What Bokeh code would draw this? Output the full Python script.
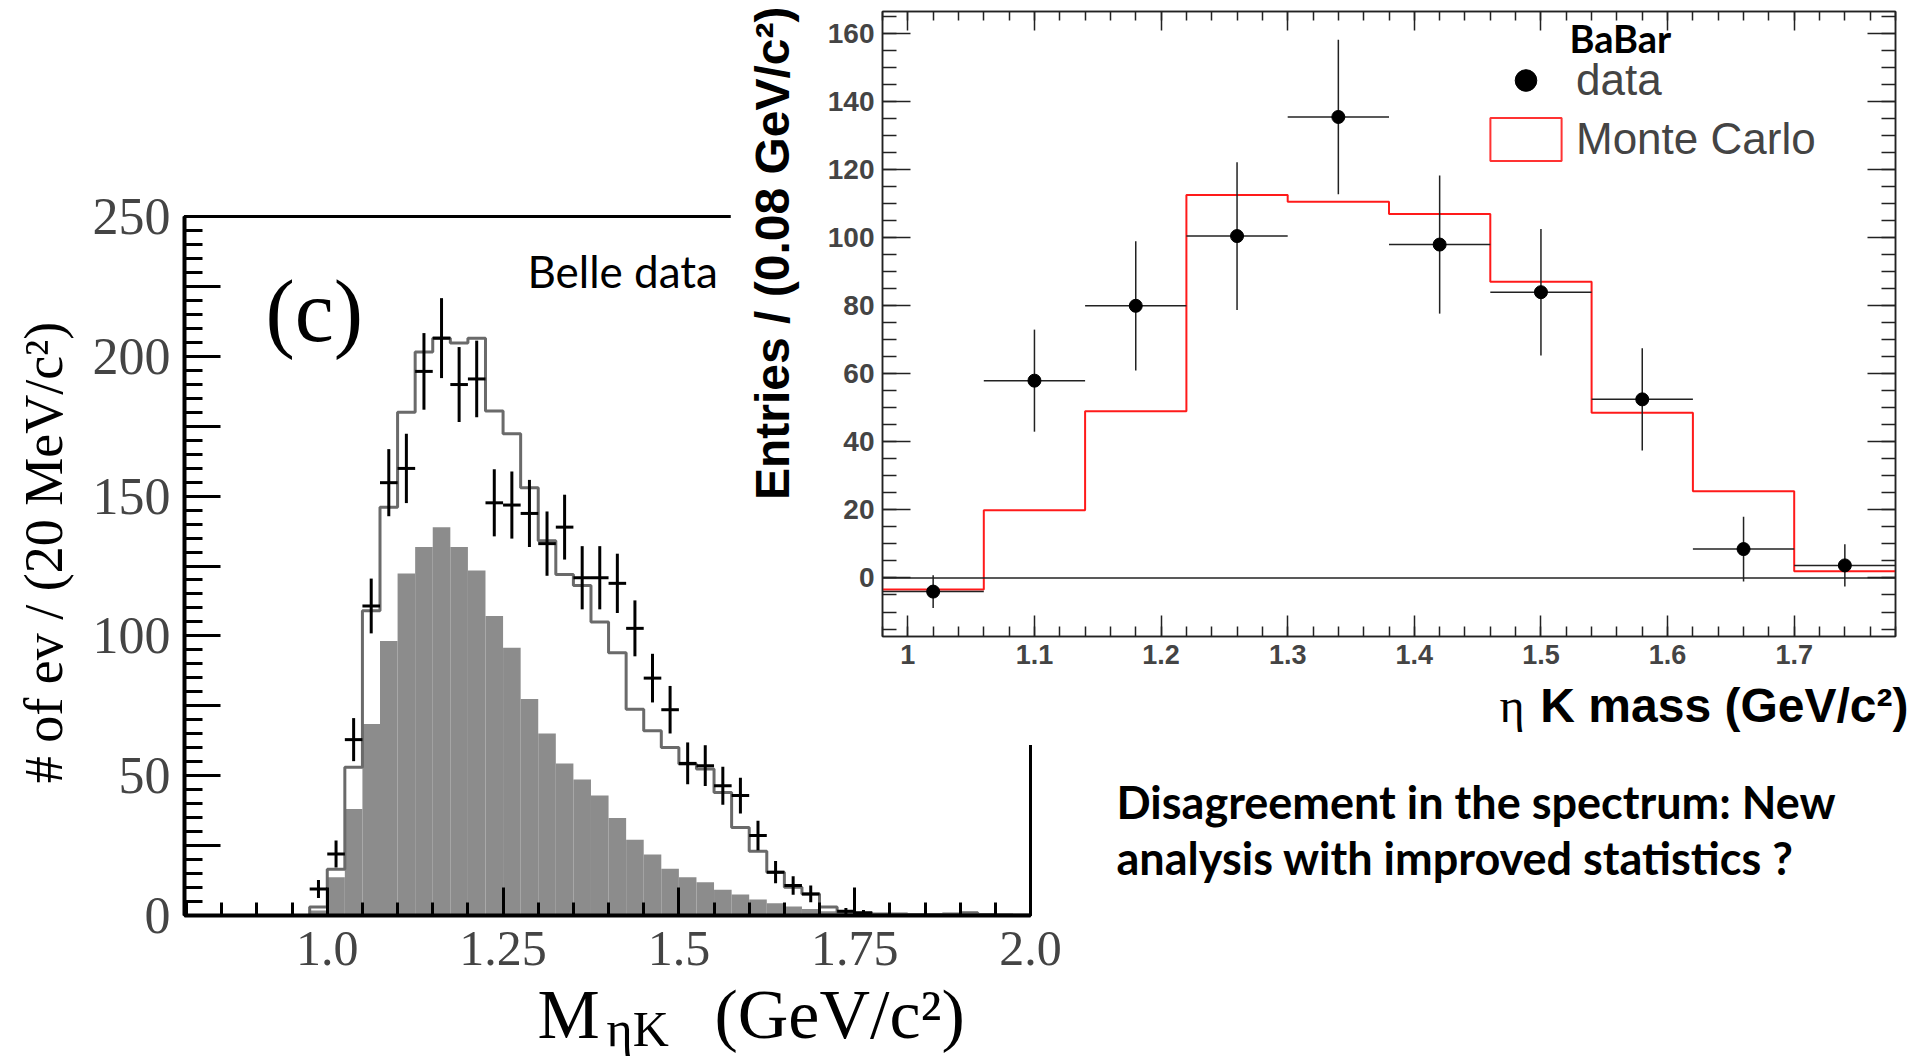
import numpy as np
from math import pi
from bokeh.plotting import figure
from bokeh.models import (Range1d, FixedTicker, LinearAxis, Label, Span, Legend,
                          LegendItem, ColumnDataSource, CustomLabelingPolicy)
from bokeh.embed import file_html
from bokeh.resources import INLINE

# ---------------- Belle panel (left) ----------------
belle_bin_width = 0.025
belle_bin_centers = [0.9875, 1.0125, 1.0375, 1.0625, 1.0875, 1.1125, 1.1375, 1.1625, 1.1875, 1.2125,
                     1.2375, 1.2625, 1.2875, 1.3125, 1.3375, 1.3625, 1.3875, 1.4125, 1.4375, 1.4625,
                     1.4875, 1.5125, 1.5375, 1.5625, 1.5875, 1.6125, 1.6375, 1.6625, 1.6875, 1.7125,
                     1.7375, 1.7625, 1.7875, 1.8125, 1.8375, 1.8625, 1.8875, 1.9125, 1.9375, 1.9625,
                     1.9875]
belle_mc_total = [3, 16.5, 53, 109, 146, 180, 201.5, 206.5, 204.8, 206.5,
                  180.4, 172.3, 153, 134, 122, 118, 105, 94, 73.8, 66.1,
                  60.1, 54.2, 52.4, 44, 31.5, 23, 15.5, 10.1, 7.7, 3,
                  1.2, 0.8, 0.5, 0.5, 0.4, 0.4, 0.5, 1.0, 0.4, 0.3, 0.2]
belle_mc_component = [1.8, 13.7, 38.1, 68.5, 98.2, 122.3, 131.8, 138.9, 131.8, 123.4,
                      107.1, 95.8, 77.4, 65.1, 54.4, 48.6, 42.9, 34.9, 27.1, 21.8,
                      16.7, 13.7, 11.9, 9.2, 7.5, 5.7, 4.4, 3.2, 2.3, 1.5,
                      1.0, 0.7, 0.5, 0.4, 0.3, 0.3, 0.4, 0.9, 0.3, 0.2, 0.1]
belle_data_mass = [0.9875, 1.0125, 1.0375, 1.0625, 1.0875, 1.1125, 1.1375, 1.1625, 1.1875, 1.2125,
                   1.2375, 1.2625, 1.2875, 1.3125, 1.3375, 1.3625, 1.3875, 1.4125, 1.4375, 1.4625,
                   1.4875, 1.5125, 1.5375, 1.5625, 1.5875, 1.6125, 1.6375, 1.6625, 1.6875, 1.7375,
                   1.7625]
belle_data_counts = [9.5, 22.0, 62.9, 110.7, 154.8, 159.9, 194.6, 206.5, 189.9, 191.9,
                     147.6, 146.8, 143.8, 133.0, 138.9, 120.8, 120.8, 118.8, 102.7, 84.9,
                     73.6, 54.4, 53.6, 46.4, 42.9, 28.6, 15.5, 10.7, 7.7, 1.5,
                     1.0]
belle_data_err = [3.2, 4.8, 7.7, 9.8, 12.0, 12.4, 13.7, 14.3, 13.4, 13.7,
                  12.0, 12.0, 12.0, 11.5, 11.6, 11.3, 11.3, 10.6, 10.0, 8.7,
                  8.5, 7.5, 7.3, 6.8, 6.4, 5.3, 4.0, 3.3, 3.0, 1.2,
                  1.0]
belle_ytick_values = [0, 25, 50, 75, 100, 125, 150, 175, 200, 225, 250]
belle_ytick_labels = ["0", "", "50", "", "100", "", "150", "", "200", "", "250"]
belle_xtick_values = [1.0, 1.25, 1.5, 1.75, 2.0]
belle_xtick_labels = ["1.0", "1.25", "1.5", "1.75", "2.0"]

# ---------------- BaBar panel (right) ----------------
babar_bin_width = 0.08
babar_bin_centers = [1.02, 1.10, 1.18, 1.26, 1.34, 1.42, 1.50, 1.58, 1.66, 1.74]
babar_data = [-4.0, 58.0, 80.0, 100.5, 135.5, 98.0, 84.0, 52.5, 8.5, 3.7]
babar_data_err = [4.8, 15.0, 19.0, 21.7, 22.7, 20.3, 18.6, 15.0, 9.5, 6.2]
babar_mc = [-3.4, 19.9, 49.0, 112.6, 110.6, 107.0, 87.1, 48.6, 25.5, 2.0]
babar_xtick_values = [1.0, 1.1, 1.2, 1.3, 1.4, 1.5, 1.6, 1.7]
babar_xtick_labels = ["1", "1.1", "1.2", "1.3", "1.4", "1.5", "1.6", "1.7"]
babar_ytick_values = [0, 20, 40, 60, 80, 100, 120, 140, 160]
babar_ytick_labels = ["0", "20", "40", "60", "80", "100", "120", "140", "160"]

SERIF = "Liberation Serif"
SANS = "Liberation Sans"
SLIDE = "Lato"

# =============== Left figure (Belle) ===============
pL = figure(width=1915, height=886, x_range=Range1d(0.797, 2.0), y_range=Range1d(0, 250),
            x_axis_type=None, y_axis_type=None, output_backend="svg", toolbar_location=None,
            min_border_left=184, min_border_right=885, min_border_top=46, min_border_bottom=141)
pL.outline_line_color = "black"
pL.outline_line_width = 3
pL.background_fill_color = "white"
pL.border_fill_color = "white"
pL.styles = {"position": "absolute", "left": "0px", "top": "170px", "z-index": "1"}

bc = np.array(belle_bin_centers)
hw = belle_bin_width / 2
fill_src = ColumnDataSource(dict(left=bc - hw, right=bc + hw, top=belle_mc_component))
pL.quad(left="left", right="right", bottom=0, top="top", source=fill_src,
        fill_color="#8c8c8c", line_color=None)

edges = list(bc - hw) + [bc[-1] + hw]
step_x = [edges[0]] + edges
step_y = [0] + list(belle_mc_total) + [belle_mc_total[-1]]
pL.step(x=step_x, y=step_y, mode="after", line_color="#6a6a6a", line_width=3)

dm = np.array(belle_data_mass)
dc = np.array(belle_data_counts)
de = np.array(belle_data_err)
pL.segment(x0=dm, y0=dc - de, x1=dm, y1=dc + de, line_color="black", line_width=3)
pL.segment(x0=dm - hw, y0=dc, x1=dm + hw, y1=dc, line_color="black", line_width=3)

yminor = list(range(0, 251, 5))
yaxL = LinearAxis(ticker=FixedTicker(ticks=belle_ytick_values, minor_ticks=yminor),
                  major_label_overrides={v: l for v, l in zip(belle_ytick_values, belle_ytick_labels)},
                  axis_line_width=4, axis_line_color="black",
                  major_tick_in=36, major_tick_out=0, minor_tick_in=18, minor_tick_out=0,
                  major_tick_line_width=3, minor_tick_line_width=3,
                  major_label_text_font=SERIF, major_label_text_font_size="52px",
                  major_label_standoff=14)
pL.add_layout(yaxL, "left")

xminor = [round(0.8 + 0.05 * i, 3) for i in range(25)]
xaxL = LinearAxis(ticker=FixedTicker(ticks=belle_xtick_values, minor_ticks=xminor),
                  major_label_overrides={v: l for v, l in zip(belle_xtick_values, belle_xtick_labels)},
                  axis_line_width=4, axis_line_color="black",
                  major_tick_in=28, major_tick_out=0, minor_tick_in=13, minor_tick_out=0,
                  major_tick_line_width=3, minor_tick_line_width=3,
                  major_label_text_font=SERIF, major_label_text_font_size="50px",
                  major_label_standoff=16)
pL.add_layout(xaxL, "below")

# =============== Right figure (BaBar) ===============
pR = figure(width=1185, height=745, x_range=Range1d(0.98, 1.78), y_range=Range1d(-17.2, 166.5),
            x_axis_type=None, y_axis_type=None, output_backend="svg", toolbar_location=None,
            min_border_left=152, min_border_right=7, min_border_top=9, min_border_bottom=109)
pR.outline_line_color = "#222222"
pR.outline_line_width = 1.5
pR.background_fill_color = "white"
pR.border_fill_color = "white"
pR.styles = {"position": "absolute", "left": "730px", "top": "0px", "z-index": "2"}

rx_minor = [round(0.98 + 0.02 * i, 3) for i in range(41)]
ry_minor = list(range(-15, 166, 5))

def babar_axis(ticks, labels, minor, tick_len, show_labels, size="27px"):
    ax = LinearAxis(ticker=FixedTicker(ticks=ticks, minor_ticks=minor),
                    axis_line_color="#222222", axis_line_width=1.5,
                    major_tick_in=tick_len, major_tick_out=0,
                    minor_tick_in=tick_len // 2, minor_tick_out=0,
                    major_tick_line_color="#222222", minor_tick_line_color="#222222",
                    major_tick_line_width=1.5, minor_tick_line_width=1.5)
    if show_labels:
        ax.major_label_overrides = {v: l for v, l in zip(ticks, labels)}
        ax.major_label_text_font = SANS
        ax.major_label_text_font_size = size
        ax.major_label_text_font_style = "bold"
        ax.major_label_standoff = 8
    else:
        ax.major_label_policy = CustomLabelingPolicy(code="return []")
        ax.major_label_standoff = 0
        ax.major_label_text_font_size = "10px"
    return ax

pR.add_layout(babar_axis(babar_xtick_values, babar_xtick_labels, rx_minor, 21, True), "below")
pR.add_layout(babar_axis(babar_ytick_values, babar_ytick_labels, ry_minor, 28, True, "28px"), "left")
pR.add_layout(babar_axis(babar_xtick_values, babar_xtick_labels, rx_minor, 19, False), "above")
pR.add_layout(babar_axis(babar_ytick_values, babar_ytick_labels, ry_minor, 28, False), "right")

pR.add_layout(Span(location=0, dimension="width", line_color="#222222", line_width=1.5))

rc = np.array(babar_bin_centers)
rhw = babar_bin_width / 2
r_edges = list(rc - rhw) + [rc[-1] + rhw]
pR.step(x=r_edges, y=list(babar_mc) + [babar_mc[-1]], mode="after", line_color="#ff1a1a", line_width=2)

# hidden box-style copy of the MC histogram, used only for its legend swatch
mc_box = pR.quad(left=rc - rhw, right=rc + rhw, top=babar_mc, bottom=0,
                 fill_color=None, line_color="#ff3333", line_width=2, visible=False)

rd = np.array(babar_data)
re = np.array(babar_data_err)
pR.segment(x0=rc, y0=rd - re, x1=rc, y1=rd + re, line_color="#222222", line_width=1.5)
pR.segment(x0=rc - rhw, y0=rd, x1=rc + rhw, y1=rd, line_color="#222222", line_width=1.5)
dots = pR.scatter(x=rc, y=rd, size=13, marker="circle", fill_color="black", line_color="black")

legend = Legend(items=[LegendItem(label="data", renderers=[dots]),
                       LegendItem(label="Monte Carlo", renderers=[mc_box])],
                location=(599, 470), glyph_width=89, glyph_height=54, label_standoff=6,
                spacing=5, padding=0, margin=0, border_line_color=None,
                background_fill_alpha=0, label_text_font=SANS, label_text_font_size="44px",
                label_height=54, inactive_fill_alpha=0)
pR.add_layout(legend)

# =============== Text overlay (page pixel coordinates) ===============
pT = figure(width=1915, height=1056, x_range=Range1d(0, 1915), y_range=Range1d(1056, 0),
            x_axis_type=None, y_axis_type=None, output_backend="svg", toolbar_location=None,
            min_border=0)
pT.outline_line_color = None
pT.background_fill_alpha = 0
pT.border_fill_alpha = 0
pT.styles = {"position": "absolute", "left": "0px", "top": "0px", "z-index": "3",
             "pointer-events": "none"}

def lab(x, y, text, font, size, style="normal", align="left", angle=0):
    pT.add_layout(Label(x=x, y=y, text=text, text_font=font, text_font_size=size,
                        text_font_style=style, text_align=align, text_baseline="middle",
                        angle=angle, text_color="black"))

lab(43, 552, "# of ev / (20 MeV/c²)", SERIF, "54px", align="center", angle=pi / 2)
lab(265, 311, "(c)", SERIF, "88px")
lab(527, 270, "Belle data", SLIDE, "44px")
lab(537, 1014, "M", SERIF, "70px")
lab(606, 1028, "ηK", SERIF, "50px")
lab(714, 1014, "(GeV/c²)", SERIF, "70px")
lab(1116, 801, "Disagreement in the spectrum: New", SLIDE, "45px", style="bold")
lab(1116, 857, "analysis with improved statistics ?", SLIDE, "45px", style="bold")
lab(1569, 37, "BaBar", SLIDE, "38px", style="bold")
lab(772, 6, "Entries / (0.08 GeV/c²)", SANS, "48px", style="bold", align="right", angle=pi / 2)
lab(1908, 705, "K mass (GeV/c²)", SANS, "48px", style="bold", align="right")
lab(1524, 705, "η", SERIF, "48px", align="right")

open("out.html", "w").write(file_html([pL, pR, pT], INLINE))
